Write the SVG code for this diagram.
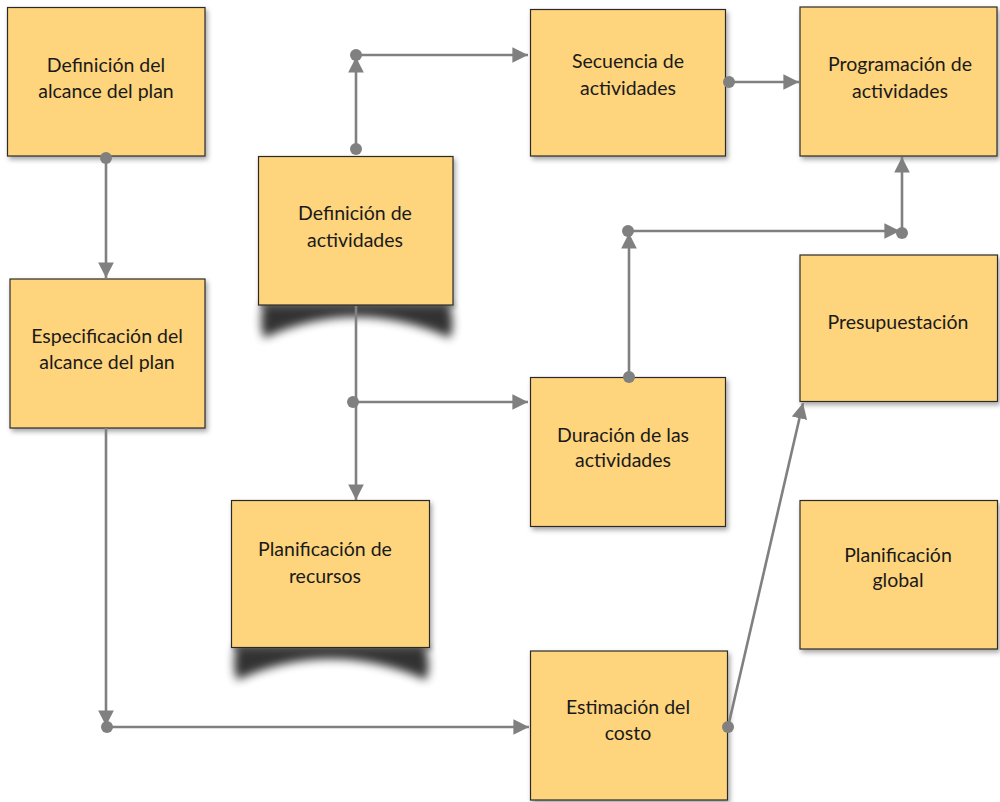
<svg xmlns="http://www.w3.org/2000/svg" width="1000" height="802" viewBox="0 0 1000 802">
<style>
.box{fill:#FED47B;stroke:#2b2b2b;stroke-width:1.2;filter:url(#ds)}
.t{font-family:Lato,"Liberation Sans",sans-serif;font-size:19.5px;fill:#1a1a1a;text-anchor:middle}
.c{fill:none;stroke:#808080;stroke-width:2.6}
.d{fill:#808080}
.curl{fill:#000;opacity:0.8;filter:url(#blur)}
</style>
<defs>
<filter id="ds" x="-10%" y="-10%" width="125%" height="125%">
<feDropShadow dx="2" dy="3" stdDeviation="2.5" flood-color="#000" flood-opacity="0.35"/>
</filter>
<filter id="blur" x="-20%" y="-60%" width="140%" height="220%">
<feGaussianBlur stdDeviation="5"/>
</filter>
<marker id="ah" viewBox="0 0 10 10" refX="10" refY="5" markerWidth="6" markerHeight="6" markerUnits="strokeWidth" orient="auto">
<path d="M0,0 L10,5 L0,10 Z" fill="#808080"/>
</marker>
</defs>

<g id="shadows">
<path class="curl" d="M263,304 H449 C453,316 454,328 450,338 Q356,296 264,338 C260,328 261,316 263,304 Z"/>
<path class="curl" d="M236,646 H425 C429,658 430,670 426,680 Q330,638 237,680 C233,670 234,658 236,646 Z"/>
</g>

<g id="n1"><rect class="box" x="7.5" y="7.5" width="197.5" height="148.5"/>
<text class="t" x="106" y="72">Definición del</text><text class="t" x="106" y="98">alcance del plan</text></g>

<g id="n2"><rect class="box" x="10" y="279" width="195" height="149"/>
<text class="t" x="107" y="343">Especificación del</text><text class="t" x="107" y="369">alcance del plan</text></g>

<g id="n3"><rect class="box" x="258.5" y="156.5" width="194.5" height="148.5"/>
<text class="t" x="355" y="220">Definición de</text><text class="t" x="355" y="247">actividades</text></g>

<g id="n4"><rect class="box" x="231.5" y="500.5" width="198" height="147"/>
<text class="t" x="325" y="556">Planificación de</text><text class="t" x="325" y="583">recursos</text></g>

<g id="n5"><rect class="box" x="530.5" y="9.5" width="195" height="146.5"/>
<text class="t" x="628" y="68">Secuencia de</text><text class="t" x="628" y="95">actividades</text></g>

<g id="n6"><rect class="box" x="800" y="7" width="197" height="149"/>
<text class="t" x="900" y="71">Programación de</text><text class="t" x="900" y="98">actividades</text></g>

<g id="n7"><rect class="box" x="800" y="255" width="197.5" height="146.5"/>
<text class="t" x="898" y="329">Presupuestación</text></g>

<g id="n8"><rect class="box" x="530.5" y="377.5" width="195" height="149"/>
<text class="t" x="623" y="442">Duración de las</text><text class="t" x="623" y="467">actividades</text></g>

<g id="n9"><rect class="box" x="800" y="500.5" width="197.5" height="148.5"/>
<text class="t" x="898" y="562">Planificación</text><text class="t" x="898" y="587">global</text></g>

<g id="n10"><rect class="box" x="530.5" y="651" width="197" height="149"/>
<text class="t" x="628" y="714">Estimación del</text><text class="t" x="628" y="740">costo</text></g>

<g id="connectors">
<circle class="d" cx="106" cy="158" r="6"/>
<path class="c" d="M106,158 V278" marker-end="url(#ah)"/>

<path class="c" d="M106,428 V726" marker-end="url(#ah)"/>
<circle class="d" cx="107" cy="727" r="6"/>
<path class="c" d="M107,727 H529" marker-end="url(#ah)"/>

<circle class="d" cx="356" cy="149" r="6"/>
<path class="c" d="M356,149 V57" marker-end="url(#ah)"/>
<circle class="d" cx="356" cy="55" r="6"/>
<path class="c" d="M356,55 H528" marker-end="url(#ah)"/>

<path class="c" d="M356,306 V500" marker-end="url(#ah)"/>
<circle class="d" cx="353" cy="402" r="6"/>
<path class="c" d="M353,402 H528" marker-end="url(#ah)"/>

<circle class="d" cx="729" cy="82" r="6"/>
<path class="c" d="M729,82 H799" marker-end="url(#ah)"/>

<circle class="d" cx="629" cy="377" r="6"/>
<path class="c" d="M629,377 V233" marker-end="url(#ah)"/>
<circle class="d" cx="628" cy="231" r="6"/>
<path class="c" d="M628,231 H900" marker-end="url(#ah)"/>
<circle class="d" cx="902" cy="233" r="6"/>
<path class="c" d="M902,233 V157" marker-end="url(#ah)"/>

<circle class="d" cx="728" cy="727" r="6"/>
<path class="c" d="M728,727 L803,403" marker-end="url(#ah)"/>
</g>
</svg>
